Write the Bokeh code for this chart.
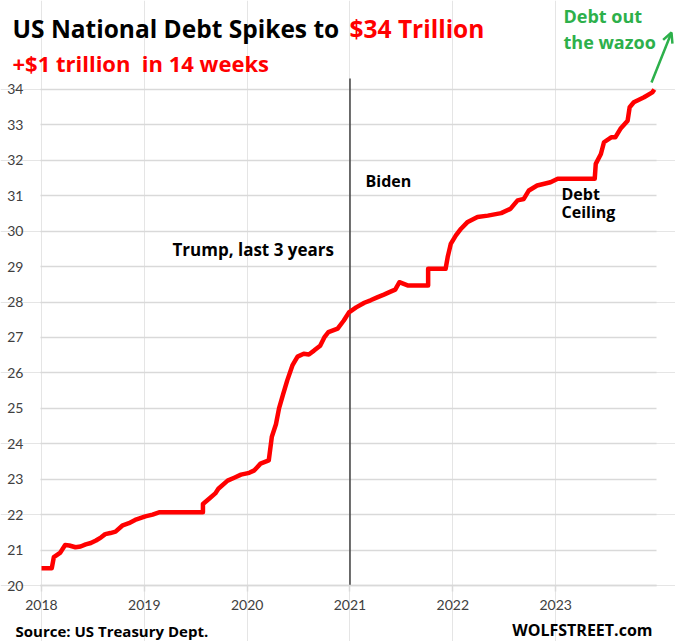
from bokeh.plotting import figure
from bokeh.models import Label, Arrow, OpenHead, FixedTicker, LinearAxis, Grid
from bokeh.embed import file_html
from bokeh.resources import INLINE

# Debt (trillion $) by decimal year
years = [2018.00, 2018.10, 2018.12, 2018.18, 2018.23, 2018.27, 2018.33, 2018.38, 2018.43,
         2018.48, 2018.53, 2018.58, 2018.62, 2018.67, 2018.72, 2018.79, 2018.85, 2018.91,
         2019.01, 2019.08, 2019.15, 2019.57, 2019.57, 2019.63, 2019.69, 2019.72, 2019.81,
         2019.88, 2019.94, 2020.02, 2020.07, 2020.13, 2020.21, 2020.24, 2020.28, 2020.31,
         2020.35, 2020.39, 2020.44, 2020.49, 2020.55, 2020.60, 2020.65, 2020.71, 2020.75,
         2020.79, 2020.88, 2020.94, 2020.99, 2021.06, 2021.14, 2021.20, 2021.27, 2021.33,
         2021.40, 2021.44, 2021.48, 2021.56, 2021.76, 2021.76, 2021.93, 2021.95, 2021.98,
         2022.03, 2022.08, 2022.14, 2022.24, 2022.34, 2022.47, 2022.56, 2022.63, 2022.69,
         2022.74, 2022.82, 2022.95, 2023.02, 2023.38, 2023.39, 2023.44, 2023.47, 2023.54,
         2023.58, 2023.63, 2023.70, 2023.72, 2023.76, 2023.86, 2023.94, 2023.96]
debt = [20.49, 20.49, 20.80, 20.92, 21.14, 21.13, 21.08, 21.10, 21.16,
        21.20, 21.27, 21.36, 21.45, 21.48, 21.52, 21.70, 21.76, 21.85,
        21.95, 22.00, 22.07, 22.07, 22.30, 22.45, 22.60, 22.73, 22.96,
        23.05, 23.13, 23.18, 23.25, 23.44, 23.53, 24.20, 24.55, 25.00,
        25.40, 25.79, 26.21, 26.46, 26.54, 26.52, 26.63, 26.77, 27.00,
        27.15, 27.25, 27.48, 27.71, 27.85, 27.98, 28.05, 28.14, 28.21,
        28.30, 28.35, 28.56, 28.47, 28.47, 28.94, 28.94, 29.27, 29.64,
        29.88, 30.07, 30.25, 30.40, 30.44, 30.51, 30.63, 30.87, 30.91,
        31.15, 31.29, 31.38, 31.48, 31.48, 31.90, 32.18, 32.51, 32.65,
        32.65, 32.89, 33.12, 33.50, 33.64, 33.78, 33.92, 34.00]
year_ticks = [2018, 2019, 2020, 2021, 2022, 2023]
debt_ticks = list(range(20, 35))
inauguration = [2021.0]

W, H = 675, 641
FONT = "Open Sans"
TICK_FONT = "Lato"

# pixel geometry of the plot area (from the top-left of the picture)
PX_PER_YEAR = 102.83
PX_PER_TRILLION = 35.43
X0_PX, Y0_PX = 41, 585          # where 2018 / 20 lie


def px_x(px):
    return 2018 + (px - X0_PX) / PX_PER_YEAR


def px_y(py):
    return 20 + (Y0_PX - py) / PX_PER_TRILLION


AREA_LEFT, AREA_RIGHT = px_x(40), px_x(656)
AREA_BOTTOM, AREA_TOP = 20, px_y(78)

p = figure(width=W, height=H, output_backend="svg", toolbar_location=None,
           x_range=(px_x(0), px_x(W)), y_range=(px_y(H), px_y(0)),
           x_axis_location=None, y_axis_location=None,
           min_border=0, min_border_left=0, min_border_right=0,
           min_border_top=0, min_border_bottom=0)
p.outline_line_color = None
p.background_fill_color = "white"
p.border_fill_color = "white"

grid = Grid(dimension=1, ticker=FixedTicker(ticks=debt_ticks),
            grid_line_color="#d9d9d9", grid_line_width=1.5,
            bounds=(20, 34), cross_bounds=(AREA_LEFT, AREA_RIGHT))
p.add_layout(grid)

yaxis = LinearAxis(fixed_location=AREA_LEFT, bounds=(20, 34),
                   ticker=FixedTicker(ticks=debt_ticks))
yaxis.axis_line_color = None
yaxis.major_tick_line_color = None
yaxis.minor_tick_line_color = None
yaxis.major_label_standoff = 11
yaxis.major_label_text_font = TICK_FONT
yaxis.major_label_text_font_size = "14px"
yaxis.major_label_text_color = "#404040"
p.add_layout(yaxis, "left")

xaxis = LinearAxis(fixed_location=AREA_BOTTOM, bounds=(AREA_LEFT, AREA_RIGHT),
                   ticker=FixedTicker(ticks=year_ticks))
xaxis.axis_line_color = "#d9d9d9"
xaxis.axis_line_width = 1.5
xaxis.major_tick_line_color = "#d9d9d9"
xaxis.major_tick_line_width = 1.5
xaxis.major_tick_in = 0
xaxis.major_tick_out = 6
xaxis.minor_tick_line_color = None
xaxis.major_label_standoff = 8
xaxis.major_label_text_font = TICK_FONT
xaxis.major_label_text_font_size = "14px"
xaxis.major_label_text_color = "#404040"
p.add_layout(xaxis, "below")

p.segment(x0=inauguration, y0=[AREA_BOTTOM], x1=inauguration, y1=[AREA_TOP],
          line_color="#404040", line_width=1.5)

p.line(years, debt, line_color="#ff0000", line_width=4.5, line_join="round")


def lab(text, x, y, size, color="black", align="left"):
    # y is the wanted baseline in picture pixels; compensate the font's baseline offset
    y_adj = y - 0.38 * size
    p.add_layout(Label(x=px_x(x), y=px_y(y_adj), text=text, text_font=FONT,
                       text_font_style="bold", text_font_size=f"{size}px", text_color=color,
                       text_align=align, text_baseline="alphabetic"))


lab("US National Debt Spikes to", 12, 37, 24.5)
lab("$34 Trillion", 349, 37, 24.5, color="#ff0000")
lab("+$1 trillion\u00a0 in 14 weeks", 12, 71, 22, color="#ff0000")

GREEN = "#2db04b"
lab("Debt out", 563, 22, 18, color=GREEN)
lab("the wazoo", 563, 48, 18, color=GREEN)
p.add_layout(Arrow(x_start=px_x(651), y_start=px_y(82), x_end=px_x(671), y_end=px_y(32),
                   line_color=GREEN, line_width=2.5,
                   end=OpenHead(line_color=GREEN, line_width=2.5, size=10)))

lab("Trump, last 3 years", 172, 255, 17)
lab("Biden", 365, 187, 16)
lab("Debt", 561, 200, 16)
lab("Ceiling", 561, 218, 16)

lab("Source: US Treasury Dept.", 15, 636, 15)
lab("WOLFSTREET.com", 652, 636, 16, align="right")

open("out.html", "w").write(file_html(p, INLINE))
